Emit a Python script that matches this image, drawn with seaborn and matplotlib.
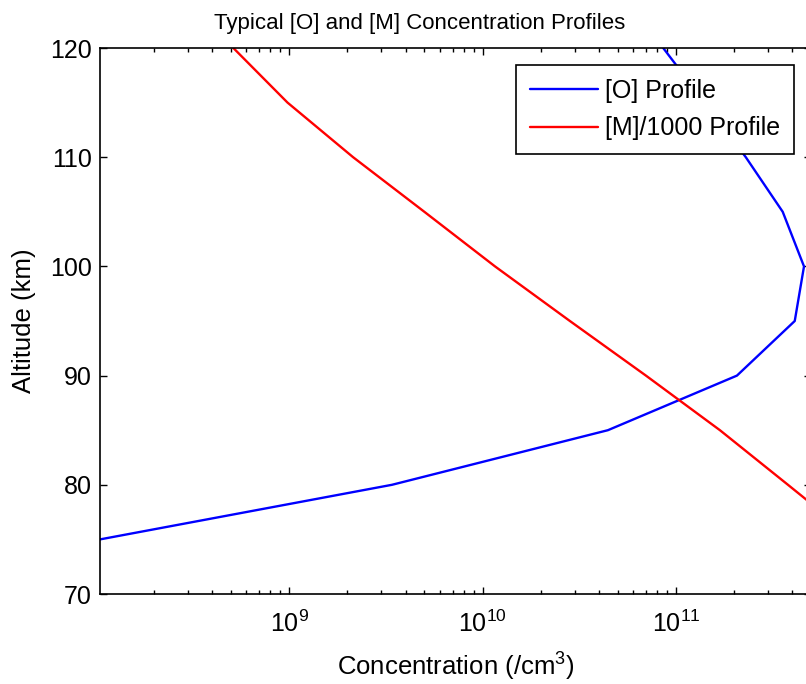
import numpy as np
import pandas as pd
import seaborn as sns
import matplotlib
matplotlib.use('Agg')
from matplotlib import pyplot as plt
from matplotlib.ticker import LogLocator, NullFormatter

# altitude grid (km)
altitude = [75, 80, 85, 90, 95, 100, 105, 110, 115, 120]

# atomic oxygen concentration (/cm^3)
o_conc = [1.05e8, 3.4e9, 4.45e10, 2.07e11, 4.12e11, 4.6e11, 3.57e11, 2.3e11, 1.41e11, 8.6e10]

# total density divided by 1000 (/cm^3)
m_conc_1000 = [8.5e11, 3.8e11, 1.69e11, 7.0e10, 2.83e10, 1.16e10, 5.0e9, 2.14e9, 9.8e8, 5.14e8]

labels = ['[O] Profile', '[M]/1000 Profile']


def build_df():
    df_o = pd.DataFrame({'alt': altitude, 'conc': o_conc, 'profile': labels[0]})
    df_m = pd.DataFrame({'alt': altitude, 'conc': m_conc_1000, 'profile': labels[1]})
    return pd.concat([df_o, df_m], ignore_index=True)


def plot(df):
    sns.set_style('ticks')
    plt.rcParams['font.family'] = ['Liberation Sans', 'DejaVu Sans']
    plt.rcParams['mathtext.fontset'] = 'custom'
    plt.rcParams['mathtext.rm'] = 'Liberation Sans'
    plt.rcParams['mathtext.it'] = 'Liberation Sans'
    plt.rcParams['mathtext.default'] = 'regular'
    plt.rcParams['text.color'] = 'black'
    plt.rcParams['axes.labelcolor'] = 'black'
    plt.rcParams['xtick.color'] = 'black'
    plt.rcParams['ytick.color'] = 'black'

    f = plt.figure(figsize=(8.06, 6.84), dpi=100)
    ax = f.add_axes([100 / 806, 90 / 684, 711 / 806, 546 / 684])

    sns.lineplot(data=df, x='conc', y='alt', hue='profile', orient='y',
                 palette=['#0000ff', '#ff0000'], estimator=None, lw=1.7, ax=ax)

    ax.set_xscale('log')
    ax.set_xlim(1.05e8, 5.0e11)
    ax.set_ylim(70, 120)
    ax.set_yticks(range(70, 121, 10))
    ax.xaxis.set_major_locator(LogLocator(base=10, numticks=10))
    ax.xaxis.set_minor_locator(LogLocator(base=10, subs=np.arange(2, 10), numticks=10))
    ax.xaxis.set_minor_formatter(NullFormatter())

    ax.tick_params(which='both', direction='in', top=True, right=True, color='black')
    ax.tick_params(which='major', length=5, width=1)
    ax.tick_params(which='minor', length=3, width=1)
    ax.tick_params(axis='y', labelsize=18, pad=6)
    ax.tick_params(axis='x', labelsize=18, pad=12)
    for s in ax.spines.values():
        s.set_linewidth(1.2)
        s.set_color('black')

    t = ax.set_title('Typical [O] and [M] Concentration Profiles', fontsize=16, pad=14)
    t.set_x(0.45)
    ax.set_xlabel('Concentration (/cm$^3$)', fontsize=18.5, labelpad=10)
    ax.set_ylabel('Altitude (km)', fontsize=18.5, labelpad=10)

    leg = ax.legend(loc='upper right', bbox_to_anchor=(0.976, 0.969), fontsize=18,
                    frameon=True, fancybox=False, edgecolor='black', framealpha=1,
                    borderpad=0.55, handlelength=2.7, handletextpad=0.3,
                    labelspacing=0.55, borderaxespad=0)
    leg.get_frame().set_linewidth(1.2)

    f.savefig('out.png', dpi=100)


df = build_df()
plot(df)
